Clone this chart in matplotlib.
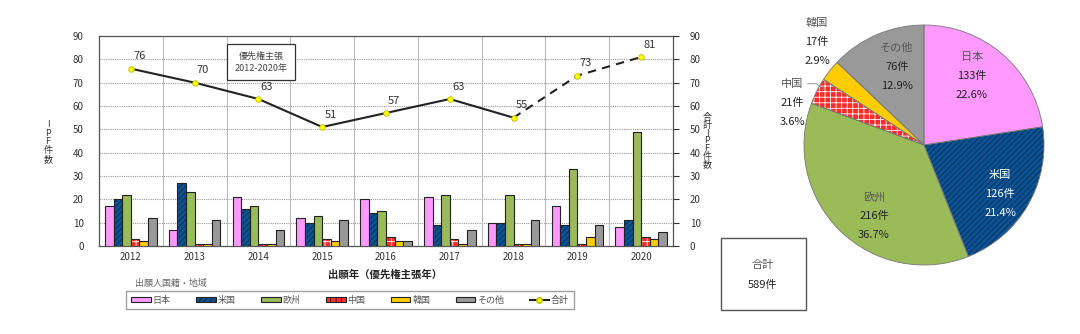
import numpy as np
import matplotlib
matplotlib.use("Agg")
import matplotlib.pyplot as plt
from matplotlib.patches import Patch, Rectangle
from matplotlib.lines import Line2D

plt.rcParams['font.family'] = ['Noto Sans CJK JP', 'DejaVu Sans']
plt.rcParams['hatch.linewidth'] = 0.6

# データ（優先権主張年ごとの出願人国籍別件数）
years = ['2012', '2013', '2014', '2015', '2016', '2017', '2018', '2019', '2020']
names = ['日本', '米国', '欧州', '中国', '韓国', 'その他']
japan = [17, 7, 21, 12, 20, 21, 10, 17, 8]
usa = [20, 27, 16, 10, 14, 9, 10, 9, 11]
europe = [22, 23, 17, 13, 15, 22, 22, 33, 49]
china = [3, 1, 1, 3, 4, 3, 1, 1, 4]
korea = [2, 1, 1, 2, 2, 1, 1, 4, 3]
other = [12, 11, 7, 11, 2, 7, 11, 9, 6]
total = [76, 70, 63, 51, 57, 63, 55, 73, 81]

pie_counts = [133, 126, 216, 21, 17, 76]
pie_pcts = ['22.6%', '21.4%', '36.7%', '3.6%', '2.9%', '12.9%']
grand_total = 589

colors = ['#FF99FF', '#0C5396', '#9BBB59', '#FF2A2A', '#FFCC00', '#999999']
hatches = [None, '//////', None, '+++', None, None]
hatch_cols = [None, '#062B4F', None, 'white', None, None]

fig = plt.figure(figsize=(10.8, 3.34), dpi=100)
W, H = 1080, 334

def fx(px):
    return px / W

def fy(py):
    return 1 - py / H

ax = fig.add_axes([fx(99), fy(246), fx(673 - 99), (246 - 36) / H])
x = np.arange(len(years))
bw = 0.135
series = [japan, usa, europe, china, korea, other]
for k, vals in enumerate(series):
    pos = x + (k - 2.5) * bw
    if hatches[k]:
        ax.bar(pos, vals, bw, color=colors[k], hatch=hatches[k],
               edgecolor=hatch_cols[k], linewidth=0, zorder=3)
        ax.bar(pos, vals, bw, fill=False, edgecolor='#222222', linewidth=0.8, zorder=4)
    else:
        ax.bar(pos, vals, bw, color=colors[k], edgecolor='#222222', linewidth=0.8, zorder=3)

ax.set_xlim(-0.5, len(years) - 0.5)
ax.set_ylim(0, 90)
ax.set_yticks(range(0, 91, 10))
ax.set_xticks(x)
ax.set_xticklabels(years, fontsize=7, color='#333333')
ax.tick_params(axis='y', labelsize=7, colors='#333333', length=0, pad=11)
ax.tick_params(axis='x', length=0, pad=4)
ax.yaxis.grid(True, linestyle=(0, (1, 1)), color='#999999', linewidth=0.8)
for b in np.arange(0.5, len(years) - 0.5, 1):
    ax.axvline(b, color='#BBBBBB', linewidth=0.8, zorder=1)
for s in ax.spines.values():
    s.set_color('#555555')
    s.set_linewidth(0.9)
ax.set_axisbelow(True)

ax2 = ax.twinx()
ax2.set_ylim(0, 90)
ax2.set_yticks(range(0, 91, 10))
ax2.tick_params(axis='y', labelsize=7, colors='#333333', length=4, pad=8)
for s in ax2.spines.values():
    s.set_visible(False)

# 合計（2018年以降は破線）
ax2.plot(x[:7], total[:7], color='#222222', linewidth=1.5, zorder=5)
ax2.plot(x[6:], total[6:], color='#222222', linewidth=1.5, linestyle=(0, (4, 3)), zorder=5)
ax2.plot(x, total, linestyle='none', marker='o', markersize=4,
         markerfacecolor='#FFFF00', markeredgecolor='#BBBB00', markeredgewidth=0.6, zorder=6)
for xi, t in zip(x, total):
    ax2.annotate(str(t), (xi, t), xytext=(6, 9), textcoords='offset points',
                 ha='center', va='center', fontsize=8, color='#333333')

ax.text(0.282, 0.876, '優先権主張\n2012-2020年', transform=ax.transAxes,
        ha='center', va='center', fontsize=6.5, color='#444444', linespacing=1.5,
        bbox=dict(boxstyle='square,pad=0.8', facecolor='white', edgecolor='#333333', linewidth=0.9),
        zorder=7)

fig.text(fx(48), fy(142), 'I\nP\nF\n件\n数', ha='center', va='center',
         fontsize=6.5, color='#333333', linespacing=0.95)
fig.text(fx(707), fy(141), '合\n計\nI\nP\nF\n件\n数', ha='center', va='center',
         fontsize=6.5, color='#333333', linespacing=0.85)
fig.text(fx(385), fy(275), '出願年（優先権主張年）', ha='center', va='center',
         fontsize=7.5, color='#222222', fontweight='bold')
fig.text(fx(135), fy(283), '出願人国籍・地域', ha='left', va='center',
         fontsize=6.5, color='#666666')

handles = []
for k in range(6):
    handles.append(Patch(facecolor=colors[k], edgecolor='#222222', linewidth=0.8,
                         hatch=hatches[k]))
handles.append(Line2D([], [], color='#222222', linewidth=1.5, marker='o', markersize=4,
                      markerfacecolor='#FFFF00', markeredgecolor='#BBBB00'))
leg = fig.legend(handles, names + ['合計'], loc='center', ncol=7,
                 bbox_to_anchor=(fx(350), fy(300)), fontsize=6.5, frameon=True,
                 fancybox=False, handlelength=2.2, handleheight=0.6, columnspacing=2.8,
                 handletextpad=0.2, borderpad=0.5)
leg.get_frame().set_edgecolor('#888888')
leg.get_frame().set_linewidth(1.0)
for t in leg.get_texts():
    t.set_color('#555555')

# 円グラフ
pax = fig.add_axes([fx(924 - 125), fy(145 + 125), 250 / W, 250 / H])
wedges, _ = pax.pie(pie_counts, colors=colors, startangle=90, counterclock=False, radius=0.96,
                    wedgeprops=dict(linewidth=0))
for w, h, hc in zip(wedges, hatches, hatch_cols):
    if h:
        w.set_hatch(h)
        w.set_edgecolor(hc)
pax.pie(pie_counts, colors=['none'] * 6, startangle=90, counterclock=False, radius=0.96,
        wedgeprops=dict(linewidth=0.6, edgecolor='#777777', fill=False))
pax.set_xlim(-1, 1)
pax.set_ylim(-1, 1)
pax.set_aspect('equal')

label_pos = [(0.384, 0.552), (0.608, -0.392), (-0.40, -0.568),
             (-1.056, 0.336), (-0.856, 0.824), (-0.216, 0.624)]
dy = 0.152
for k in range(6):
    lx, ly = label_pos[k]
    c1 = 'white' if k == 1 else '#555555'
    c2 = 'white' if k == 1 else '#222222'
    pax.text(lx, ly + dy, names[k], ha='center', va='center', fontsize=8, color=c1)
    pax.text(lx, ly, f'{pie_counts[k]}件', ha='center', va='center', fontsize=8, color=c2)
    pax.text(lx, ly - dy, pie_pcts[k], ha='center', va='center', fontsize=8, color=c2)
# 中国のリーダー線
pax.plot([-0.93, -0.86, -0.80], [0.49, 0.49, 0.44], color='#888888', linewidth=0.6, clip_on=False)

fig.patches.append(Rectangle((fx(721), fy(310)), fx(806 - 721), (310 - 238) / H,
                             transform=fig.transFigure, fill=False, edgecolor='#555555',
                             linewidth=1.0))
fig.text(fx(763), fy(265), '合計', ha='center', va='center', fontsize=8, color='#555555')
fig.text(fx(763), fy(285), f'{grand_total}件', ha='center', va='center', fontsize=8, color='#222222')

fig.savefig('out.png', dpi=100)
